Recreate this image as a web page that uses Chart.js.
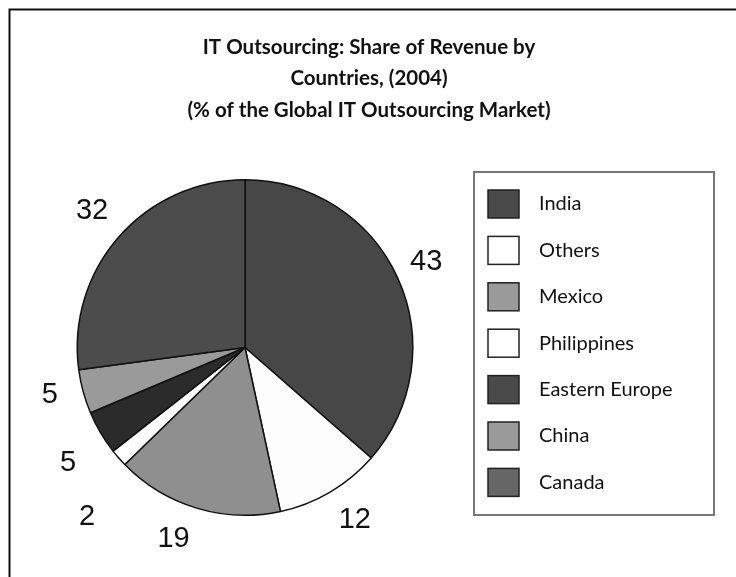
<!DOCTYPE html>
<html>
<head>
<meta charset="utf-8">
<script src="https://cdn.jsdelivr.net/npm/chart.js@4"></script>
<style>
  html, body { margin: 0; padding: 0; background: #ffffff; }
  #wrap { width: 736px; height: 577px; position: relative; }
</style>
</head>
<body>
<div id="wrap"><canvas id="c" width="736" height="577"></canvas></div>
<script>
// ---- data ----
const categories = ["India", "Others", "Mexico", "Philippines", "Eastern Europe", "China", "Canada"];
const shares = [43, 12, 19, 2, 5, 5, 32];
const valueLabels = ["43", "12", "19", "2", "5", "5", "32"];
const titleLines = ["IT Outsourcing: Share of Revenue by", "Countries, (2004)", "(% of the Global IT Outsourcing Market)"];

// ---- styles ----
const sliceColors = ["#474747", "#fdfdfd", "#8f8f8f", "#ffffff", "#2b2b2b", "#9a9a9a", "#4c4c4c"];
const legendColors = ["#4a4a4a", "#ffffff", "#9a9a9a", "#ffffff", "#4a4a4a", "#9a9a9a", "#666666"];
const labelNudge = [[-3, 0], [0, 2], [-2, 3], [-11, 36], [-10, 10], [-9, -13], [2, -5]];

const framePlugin = {
  id: 'frame',
  beforeDraw(chart) {
    const ctx = chart.ctx;
    ctx.save();
    ctx.fillStyle = '#ffffff';
    ctx.fillRect(0, 0, chart.width, chart.height);
    ctx.strokeStyle = '#111111';
    ctx.lineWidth = 2;
    ctx.beginPath();
    ctx.moveTo(9.5, chart.height);
    ctx.lineTo(9.5, 9.5);
    ctx.lineTo(chart.width, 9.5);
    ctx.stroke();
    // title, centred on the figure
    ctx.font = 'bold 20.5px Lato, "Open Sans", sans-serif';
    ctx.fillStyle = '#111111';
    ctx.textAlign = 'center';
    ctx.textBaseline = 'middle';
    titleLines.forEach((t, i) => ctx.fillText(t, 369, 47 + i * 31.5));
    ctx.restore();
  }
};

const valueLabelPlugin = {
  id: 'valueLabels',
  afterDatasetsDraw(chart) {
    const ctx = chart.ctx;
    const meta = chart.getDatasetMeta(0);
    ctx.save();
    ctx.font = '29px "Liberation Sans", Arial, sans-serif';
    ctx.fillStyle = '#111111';
    ctx.textAlign = 'center';
    ctx.textBaseline = 'middle';
    meta.data.forEach((arc, i) => {
      const p = arc.getProps(['x', 'y', 'startAngle', 'endAngle', 'outerRadius'], true);
      const mid = (p.startAngle + p.endAngle) / 2;
      const r = p.outerRadius * 1.1;
      const ax = p.x + Math.cos(mid) * r;
      const ay = p.y + Math.sin(mid) * r;
      const text = valueLabels[i];
      const w = ctx.measureText(text).width;
      const h = 21;
      const cx = ax + (ax >= p.x ? w / 2 : -w / 2) + labelNudge[i][0];
      const cy = ay + (ay < p.y ? -h / 2 : h / 2) + labelNudge[i][1];
      ctx.fillText(text, cx, cy + 1);
    });
    ctx.restore();
  }
};

const boxLegendPlugin = {
  id: 'boxLegend',
  afterDraw(chart) {
    const ctx = chart.ctx;
    const labels = chart.data.labels;
    const bx = 474, by = 172, bw = 240, bh = 343;
    ctx.save();
    ctx.strokeStyle = '#777777';
    ctx.lineWidth = 2;
    ctx.strokeRect(bx, by, bw, bh);
    ctx.font = '20px Lato, "Open Sans", sans-serif';
    ctx.textBaseline = 'middle';
    ctx.textAlign = 'left';
    labels.forEach((lab, i) => {
      const y = 190 + i * 46.4;
      ctx.fillStyle = legendColors[i];
      ctx.fillRect(488, y, 31, 28);
      ctx.strokeStyle = '#222222';
      ctx.lineWidth = 1.5;
      ctx.strokeRect(488, y, 31, 28);
      ctx.fillStyle = '#111111';
      ctx.fillText(lab, 539, y + 14);
    });
    ctx.restore();
  }
};

new Chart(document.getElementById('c'), {
  type: 'pie',
  data: {
    labels: categories,
    datasets: [{
      data: shares,
      backgroundColor: sliceColors,
      borderColor: '#111111',
      borderWidth: 1.5,
      borderAlign: 'center'
    }]
  },
  options: {
    responsive: false,
    animation: false,
    events: [],
    layout: { padding: { left: 76, right: 322, top: 179, bottom: 61 } },
    plugins: {
      legend: { display: false },
      tooltip: { enabled: false },
      title: { display: false }
    }
  },
  plugins: [framePlugin, valueLabelPlugin, boxLegendPlugin]
});
</script>
</body>
</html>
